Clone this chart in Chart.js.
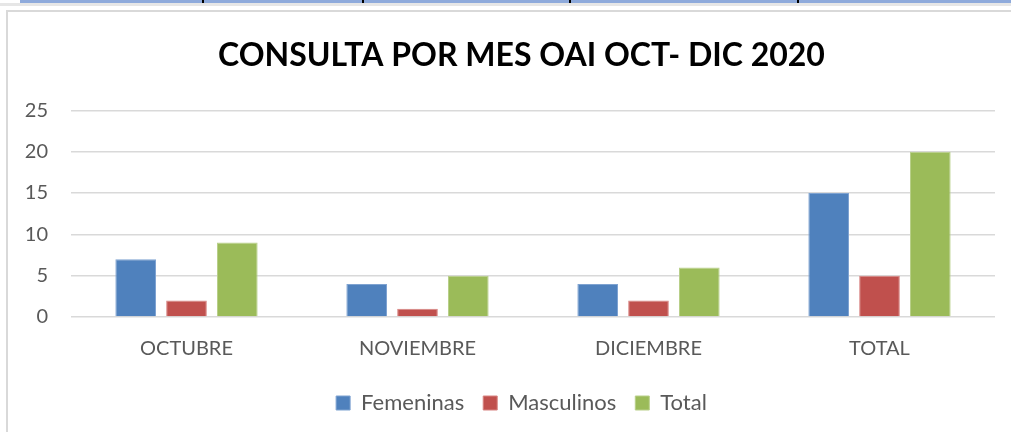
<!DOCTYPE html>
<html>
<head>
<meta charset="utf-8">
<script src="https://cdn.jsdelivr.net/npm/chart.js@4.4.0/dist/chart.umd.min.js"></script>
<style>
  html, body { margin: 0; padding: 0; background: #fff; overflow: hidden; }
  body { width: 1011px; height: 432px; position: relative; }
  #strip { position: absolute; left: 20px; top: 0; width: 991px; height: 3px; background: #8eaadb; }
  .tick { position: absolute; top: 0; width: 2px; height: 3px; background: #000; }
  #shade { position: absolute; left: 0; top: 3px; width: 1011px; height: 3px; background: #e6e6e6; }
  #box { position: absolute; left: 6px; top: 10px; width: 1040px; height: 440px; border: 2px solid #d9d9d9; background: #fff; }
  #wrap { position: absolute; left: 8px; top: 12px; width: 1003px; height: 420px; }
</style>
</head>
<body>
<div id="strip"></div>
<div class="tick" style="left:202px"></div>
<div class="tick" style="left:362px"></div>
<div class="tick" style="left:569px"></div>
<div class="tick" style="left:797px"></div>
<div id="shade"></div>
<div id="box"></div>
<div id="wrap"><canvas id="chart" width="1003" height="420"></canvas></div>
<script>
const categories = ['OCTUBRE', 'NOVIEMBRE', 'DICIEMBRE', 'TOTAL'];
const femeninas = [7, 4, 4, 15];
const masculinos = [2, 1, 2, 5];
const total = [9, 5, 6, 20];
const yTicks = [0, 5, 10, 15, 20, 25];

const font = 'Lato, "Open Sans", sans-serif';
const textColor = '#595959';

function series(label, data, color, border) {
    return { label, data, backgroundColor: color, borderColor: border, borderWidth: 1,
             categoryPercentage: 0.66, barPercentage: 0.8 };
}

// the original chart box runs past the right edge of the window,
// so its title and legend sit a little right of the visible centre
const shiftTitleLegend = {
    id: 'shiftTitleLegend',
    afterLayout(chart) {
        [chart.titleBlock, chart.legend].forEach(b => { b.left += 20; b.right += 20; });
    }
};

window.onload = () => {
    new Chart(document.getElementById('chart'), {
        type: 'bar',
        data: {
            labels: categories,
            datasets: [
                series('Femeninas', femeninas, '#4f81bd', '#7fa3d1'),
                series('Masculinos', masculinos, '#c0504d', '#d88482'),
                series('Total', total, '#9bbb59', '#b9d08a')
            ]
        },
        plugins: [shiftTitleLegend],
        options: {
            responsive: false,
            animation: false,
            devicePixelRatio: 1,
            layout: { padding: { left: 0, right: 16, top: 10, bottom: 8 } },
            plugins: {
                title: {
                    display: true,
                    text: 'CONSULTA POR MES OAI OCT- DIC 2020',
                    color: '#000',
                    font: { family: font, size: 32, weight: 'bold' },
                    padding: { top: 14, bottom: 36 }
                },
                legend: {
                    position: 'bottom',
                    labels: {
                        color: textColor,
                        font: { family: font, size: 22 },
                        boxWidth: 14, boxHeight: 14, padding: 19
                    }
                },
                tooltip: { enabled: false }
            },
            scales: {
                x: {
                    grid: { display: false },
                    border: { display: false },
                    ticks: { color: textColor, font: { family: font, size: 20 }, padding: 12 }
                },
                y: {
                    min: 0, max: 25,
                    afterBuildTicks: axis => { axis.ticks = yTicks.map(v => ({ value: v })); },
                    afterFit: axis => { axis.width = 63; },
                    grid: { color: '#d9d9d9', lineWidth: 1.5, drawTicks: false },
                    border: { display: false },
                    ticks: { color: textColor, font: { family: font, size: 20 }, padding: 23 }
                }
            }
        }
    });
};
</script>
</body>
</html>
